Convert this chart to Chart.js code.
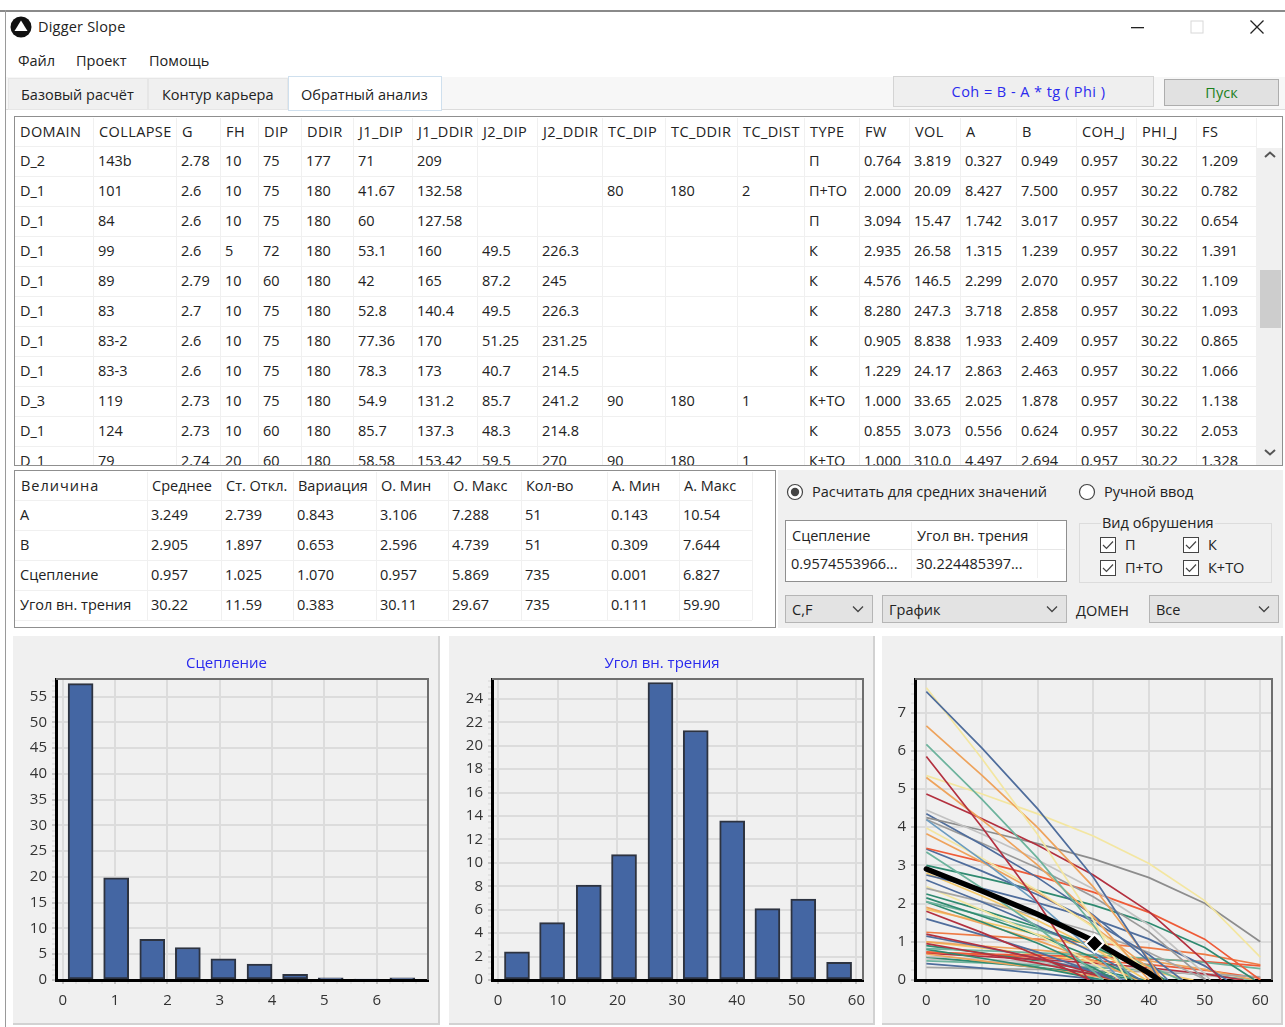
<!DOCTYPE html>
<html lang="ru"><head><meta charset="utf-8"><title>Digger Slope</title>
<script src="https://cdn.jsdelivr.net/npm/chart.js@4"></script>
<style>
html,body{margin:0;padding:0;background:#fff}
#app{position:relative;width:1285px;height:1027px;overflow:hidden;background:#fff;font-family:"Open Sans",sans-serif;font-size:14.5px;color:#222}
.b{position:absolute;box-sizing:border-box}
.b svg{display:block}
.t{position:absolute;white-space:nowrap;line-height:18px;height:18px}
canvas{position:absolute}
</style></head><body><div id="app"></div>
<script>
// ---------- Histogram "Сцепление"
const cohBinCenters=[0.34,1.02,1.71,2.39,3.07,3.76,4.44,5.12,5.80,6.49];
const cohCounts=[57.5,19.8,7.9,6.3,4.1,3.1,1.1,0.4,0.2,0.4];
// ---------- Histogram "Угол вн. трения"
const phiBinCenters=[3.18,9.06,15.2,21.1,27.2,33.1,39.2,45.1,51.1,57.1];
const phiCounts=[2.4,4.9,8.1,10.7,25.4,21.3,13.6,6.1,6.9,1.5];
// ---------- Envelope chart: values at phi = 0,10,...; lineEnds = phi where the line reaches zero
const phiTicks=[0,10,20,30,40,50,60];
const meanLine=[2.905,2.33,1.72,1.03,0.18];
const meanLineEnd=41.8;
const meanPoint=[30.22,0.957];
const lineValues=[
[7.55,6.07,4.48,2.69,0.48],[7.65,5.79,3.81,1.57],[6.65,5.36,3.99,2.44,0.53],[6.17,4.73,3.19,1.44],
[5.85,4.0,2.03],[5.35,4.87,4.35,3.77,3.05,2.08,0.6],[5.3,4.19,3.01,1.66],[4.87,4.22,3.53,2.75,1.79,0.49],
[4.45,3.82,3.14,2.38,1.44,0.17],[4.25,3.92,3.57,3.17,2.68,2.01,1.0],[4.35,3.54,2.68,1.70,0.49],[4.2,3.14,2.02,0.74],
[4.2,3.58,2.93,2.18,1.26,0.03],[3.98,3.19,2.34,1.38,0.2],[3.83,3.09,2.30,1.41,0.31],[3.45,3.10,2.72,2.30,1.77,1.07],
[3.43,2.85,2.23,1.53,0.66],[3.35,2.40,1.38,0.23],[3.0,2.68,2.34,1.96,1.49,0.85],[2.75,2.40,2.02,1.60,1.07,0.37],
[2.62,2.04,1.42,0.72],[2.8,2.20,1.56,0.84],[2.4,2.05,1.67,1.25,0.72,0.02],[2.45,1.83,1.18,0.43],
[2.25,1.83,1.38,0.87,0.24],[2.15,1.67,1.17,0.59],[2.05,1.70,1.32,0.90,0.37],[2.05,1.52,0.96,0.32],
[1.9,1.48,1.03,0.51],[1.85,1.53,1.19,0.81,0.34],[1.8,1.24,0.64],[1.6,1.18,0.73,0.22],
[1.25,1.16,1.07,0.97,0.84,0.67,0.40],[1.2,0.89,0.56,0.19],[1.15,0.87,0.57,0.23],[0.95,0.70,0.44,0.14],
[0.82,0.77,0.71,0.65,0.57,0.46,0.30],[0.8,0.57,0.33,0.05],[0.72,0.68,0.65,0.60,0.55,0.48,0.37],[0.68,0.50,0.32,0.10],
[0.7,0.62,0.54,0.44,0.32,0.16],[0.62,0.55,0.47,0.39,0.28,0.14],[0.6,0.47,0.33,0.17],[0.43,0.31,0.18,0.03],
[0.33,0.30,0.28,0.25,0.21,0.16,0.08],[1.0,0.89,0.78,0.65,0.50,0.28],[1.0,0.84,0.67,0.48,0.24],[0.9,0.71,0.50,0.27],
[0.5,0.45,0.39,0.33,0.25,0.14],[0.55,0.49,0.42,0.35,0.26,0.13],[0.74,0.67,0.59,0.51,0.40,0.26,0.05]];
const lineEnds=[41.8,36,42.3,37,29.1,null,40,53,51,null,43.4,35,50.2,41.5,42.4,60,46,31.8,59,54,38.5,39.5,50,35,43,38.5,45.7,34,38,46,29.4,33.7,null,34.4,35.7,34,null,31.6,null,34,57,57,38.6,31.6,null,59,48,39.3,59,58,null];
const lineColors=['#4f6d9c','#f3e6a1','#eea35c','#6db39d','#b3303f','#f3e6a1','#eea35c','#b3303f','#c2c2c2','#8d8d8d','#4f6d9c','#6b9cc0','#9a9a9a','#f3e6a1','#eea35c','#ee5b38','#4f6d9c','#6db39d','#2f8a70','#4f6d9c','#4f6d9c','#f5c96a','#a5a5a5','#f3e6a1','#2f8a70','#2f8a70','#6db39d','#2f8a70','#eea35c','#f5c96a','#b3303f','#4f6d9c','#ee7a45','#b3303f','#4f6d9c','#b3303f','#6db39d','#2f8a70','#ee5b38','#eea35c','#b3303f','#c2c2c2','#2f8a70','#4f6d9c','#a5a5a5','#eea35c','#f5c96a','#2f8a70','#6db39d','#c2c2c2','#ee5b38'];
// ---------- Tables
const gridHeaders=['DOMAIN','COLLAPSE','G','FH','DIP','DDIR','J1_DIP','J1_DDIR','J2_DIP','J2_DDIR','TC_DIP','TC_DDIR','TC_DIST','TYPE','FW','VOL','A','B','COH_J','PHI_J','FS'];
const gridRows=[
['D_2','143b','2.78','10','75','177','71','209','','','','','','П','0.764','3.819','0.327','0.949','0.957','30.22','1.209'],
['D_1','101','2.6','10','75','180','41.67','132.58','','','80','180','2','П+ТО','2.000','20.09','8.427','7.500','0.957','30.22','0.782'],
['D_1','84','2.6','10','75','180','60','127.58','','','','','','П','3.094','15.47','1.742','3.017','0.957','30.22','0.654'],
['D_1','99','2.6','5','72','180','53.1','160','49.5','226.3','','','','К','2.935','26.58','1.315','1.239','0.957','30.22','1.391'],
['D_1','89','2.79','10','60','180','42','165','87.2','245','','','','К','4.576','146.5','2.299','2.070','0.957','30.22','1.109'],
['D_1','83','2.7','10','75','180','52.8','140.4','49.5','226.3','','','','К','8.280','247.3','3.718','2.858','0.957','30.22','1.093'],
['D_1','83-2','2.6','10','75','180','77.36','170','51.25','231.25','','','','К','0.905','8.838','1.933','2.409','0.957','30.22','0.865'],
['D_1','83-3','2.6','10','75','180','78.3','173','40.7','214.5','','','','К','1.229','24.17','2.863','2.463','0.957','30.22','1.066'],
['D_3','119','2.73','10','75','180','54.9','131.2','85.7','241.2','90','180','1','К+ТО','1.000','33.65','2.025','1.878','0.957','30.22','1.138'],
['D_1','124','2.73','10','60','180','85.7','137.3','48.3','214.8','','','','К','0.855','3.073','0.556','0.624','0.957','30.22','2.053'],
['D_1','79','2.74','20','60','180','58.58','153.42','59.5','270','90','180','1','К+ТО','1.000','310.0','4.497','2.694','0.957','30.22','1.328']];
const statHeaders=['Величина','Среднее','Ст. Откл.','Вариация','О. Мин','О. Макс','Кол-во','А. Мин','А. Макс'];
const statRows=[
['A','3.249','2.739','0.843','3.106','7.288','51','0.143','10.54'],
['B','2.905','1.897','0.653','2.596','4.739','51','0.309','7.644'],
['Сцепление','0.957','1.025','1.070','0.957','5.869','735','0.001','6.827'],
['Угол вн. трения','30.22','11.59','0.383','30.11','29.67','735','0.111','59.90']];

// ---------- Page layout
const app=document.getElementById('app');
function box(x,y,w,h,css,parent){const d=document.createElement('div');d.className='b';d.style.cssText=`left:${x}px;top:${y}px;width:${w}px;height:${h}px;${css||''}`;(parent||app).appendChild(d);return d}
function text(s,x,cy,css,parent){const d=document.createElement('div');d.className='t';d.textContent=s;d.style.cssText=`left:${x}px;top:${cy-9}px;${css||''}`;(parent||app).appendChild(d);return d}
function svg(x,y,w,h,inner){const d=document.createElement('div');d.className='b';d.style.cssText=`left:${x}px;top:${y}px;width:${w}px;height:${h}px`;d.innerHTML=`<svg width="${w}" height="${h}" viewBox="0 0 ${w} ${h}">${inner}</svg>`;app.appendChild(d)}

box(0,10,1285,2,'background:#8a8a8a');box(5,10,1,1017,'background:#9a9a9a');
svg(10,16,22,22,'<circle cx="11" cy="11" r="10.5" fill="#111"/><path d="M11 4.5 L17.5 15 L4.5 15 Z" fill="#fff"/>');
text('Digger Slope',38,27,'letter-spacing:.2px');
svg(1130,20,16,14,'<rect x="1" y="7" width="13" height="1.3" fill="#222"/>');
svg(1190,20,14,14,'<rect x="1" y="1" width="12" height="12" fill="none" stroke="#d8d8d8"/>');
svg(1249,19,16,16,'<path d="M1.5 1.5 L14.5 14.5 M14.5 1.5 L1.5 14.5" stroke="#222" stroke-width="1.3"/>');
text('Файл',18,61);text('Проект',76,61);text('Помощь',149,61);
// tabs and top buttons
box(6,77,1279,33,'background:#f7f7f7;border-bottom:1px solid #dcdcdc');
box(8,78,140,32,'background:#f0f0f0;border:1px solid #e6e6e6');text('Базовый расчёт',21,95);
box(148,78,140,32,'background:#f0f0f0;border:1px solid #e6e6e6');text('Контур карьера',162,95);
box(288,76,154,35,'background:#fff;border:1px solid #cfe0ee');text('Обратный анализ',301,95);
box(893,76,261,31,'background:#efefef;border:1px solid #d4d4d4');
text('Coh = B - A * tg ( Phi )',898,92,'width:261px;text-align:center;color:#2a2aee;letter-spacing:.45px');
box(1164,79,115,27,'background:#e1e1e1;border:1px solid #adadad');
text('Пуск',1164,93,'width:115px;text-align:center;color:#1b801b');
// main grid
const gridCols=[14,93,176,220,258,301,353,412,477,537,602,665,737,804,859,909,960,1016,1076,1136,1196,1256];
const grid=box(14,116,1269,350,'background:#fff;border:1px solid #8f8f8f;overflow:hidden');
gridCols.slice(1).forEach(x=>box(x-15,1,1,348,'background:#f0f0f0',grid));
for(let i=0;i<11;i++)box(0,29+30*i,1242,1,'background:#f0f0f0',grid);
gridHeaders.forEach((h,c)=>text(h,gridCols[c]+6-15,15,'letter-spacing:.4px',grid));
gridRows.forEach((r,i)=>r.forEach((v,c)=>{if(v)text(v,gridCols[c]+5-15+(c==0?1:0),44+30*i,'',grid)}));
box(1242,31,25,318,'background:#f0f0f0',grid);
box(1245,153,21,58,'background:#cdcdcd',grid);
svg(1264,150,12,10,'<path d="M1 7 L6 2.5 L11 7" fill="none" stroke="#555" stroke-width="2"/>');
svg(1264,447,12,10,'<path d="M1 3 L6 7.5 L11 3" fill="none" stroke="#555" stroke-width="2"/>');
// statistics table
const statCols=[14,147,221,293,376,448,521,607,679,752];
const stat=box(14,470,762,158,'background:#fff;border:1px solid #8f8f8f;overflow:hidden');
statCols.slice(1).forEach(x=>box(x-15,1,1,148,'background:#f0f0f0',stat));
for(let i=0;i<5;i++)box(0,29+30*i,737,1,'background:#f0f0f0',stat);
statHeaders.forEach((h,c)=>text(h,statCols[c]+5-15+(c==0?2:0),15,c==0?'letter-spacing:1px':'',stat));
statRows.forEach((r,i)=>r.forEach((v,c)=>text(v,statCols[c]+4-15+(c==0?2:0),44+30*i,'',stat)));
// right control panel
box(778,470,505,158,'background:#f0f0f0');
svg(786,483,18,18,'<circle cx="9" cy="9" r="7.5" fill="#fff" stroke="#444" stroke-width="1.2"/><circle cx="9" cy="9" r="4.2" fill="#444"/>');
text('Расчитать для средних значений',812,492);
svg(1078,483,18,18,'<circle cx="9" cy="9" r="7.5" fill="#fff" stroke="#444" stroke-width="1.2"/>');
text('Ручной ввод',1104,492);
const small=box(785,520,282,62,'background:#fff;border:1px solid #8f8f8f');
box(125,1,1,56,'background:#f0f0f0',small);box(251,1,1,56,'background:#f0f0f0',small);box(1,28,278,1,'background:#e6e6e6',small);
text('Сцепление',6,15,'',small);text('Угол вн. трения',131,15,'',small);
text('0.9574553966...',5,43,'',small);text('30.224485397...',130,43,'',small);
box(1079,523,193,60,'border:1px solid #dcdcdc');
text('Вид обрушения',1101,523,'background:#f0f0f0;padding:0 1px');
[[1100,537,'П'],[1183,537,'К'],[1100,560,'П+ТО'],[1183,560,'К+ТО']].forEach(([x,y,l])=>{
  svg(x,y,16,16,'<rect x=".5" y=".5" width="15" height="15" fill="#fff" stroke="#444"/><path d="M3 8 L6.5 11.5 L13 4.5" fill="none" stroke="#444" stroke-width="1.2"/>');
  text(l,x+25,y+8);
});
[[785,88,'C,F'],[882,185,'График'],[1149,130,'Все']].forEach(([x,w,l])=>{
  box(x,595,w,28,'background:#e3e3e3;border:1px solid #b5b5b5');
  text(l,x+7,610);
  svg(x+w-22,604,14,10,'<path d="M2 2.5 L7 7.5 L12 2.5" fill="none" stroke="#444" stroke-width="1.3"/>');
});
text('ДОМЕН',1076,611);

// ---------- Charts
function panel(x,w){box(x,636,w,389,'background:#f0f0f0;border-right:2px solid #d2d2d2;border-bottom:2px solid #d2d2d2');
  const c=document.createElement('canvas');c.width=w;c.height=389;c.style.left=x+'px';c.style.top='636px';app.appendChild(c);return c}
const frame={id:'frame',afterDatasetsDraw(ch){const a=ch.chartArea,g=ch.ctx;g.save();g.strokeStyle='#6e6e6e';g.lineWidth=2;g.beginPath();g.moveTo(a.left,a.top);g.lineTo(a.right,a.top);g.lineTo(a.right,a.bottom);g.stroke();g.restore()}};
const near=(v,m)=>Math.abs(v/m-Math.round(v/m))<1e-6;
const isMajor=(c,m)=>!!c.tick&&near(c.tick.value,m);
function axis(min,max,minor,major,size,isX){return {type:'linear',min,max,offset:false,
  afterFit(s){if(isX)s.height=size;else s.width=size},
  border:{display:true,color:'#000',width:3},
  grid:{offset:false,lineWidth:2,tickLength:4,tickWidth:1,
    color:c=>isMajor(c,major)?'#dcdcdc':'rgba(0,0,0,0)',
    tickColor:c=>isMajor(c,major)?'#9a9a9a':'#d4d4d4'},
  ticks:{stepSize:minor,includeBounds:false,autoSkip:false,maxRotation:0,padding:isX?8:5,color:'#333',
    font:{family:'"Open Sans",sans-serif',size:15},
    callback:v=>near(v,major)?String(Math.round(v)):''}}}
function histogram(cv,title,xs,ys,xa,ya){const points=xs.map((x,i)=>({x,y:ys[i]}));
  new Chart(cv,{type:'bar',plugins:[frame],data:{datasets:[{data:points,backgroundColor:'#4466a3',borderColor:'#2d3340',borderWidth:2,borderSkipped:false,barThickness:25}]},
    options:{responsive:false,animation:false,layout:{padding:{left:12,right:12,top:0,bottom:0}},
      plugins:{legend:{display:false},tooltip:{enabled:false},
        title:{display:true,text:title,color:'#2a2aee',font:{family:'"Open Sans",sans-serif',size:15,weight:'normal'},padding:{top:19,bottom:6}}},
      scales:{x:xa,y:ya}}})}
histogram(panel(13,427),'Сцепление',cohBinCenters,cohCounts,axis(-0.13,6.98,0.25,1,45,true),axis(0,58.4,1,5,31,false));
histogram(panel(449,426),'Угол вн. трения',phiBinCenters,phiCounts,axis(-1,61.1,2.5,10,45,true),axis(0,25.7,0.5,2,31,false));

const toPts=(vals,end)=>{const p=vals.map((y,i)=>({x:phiTicks[i],y}));if(end!==null)p.push({x:end,y:0});return p};
const lineSets=lineValues.map((v,i)=>({data:toPts(v,lineEnds[i]),borderColor:lineColors[i],borderWidth:1.7,pointRadius:0,showLine:true,tension:0}));
new Chart(panel(882,401),{type:'scatter',plugins:[frame],data:{datasets:[
  {data:[{x:meanPoint[0],y:meanPoint[1]}],pointStyle:'rectRot',pointRadius:9,pointBackgroundColor:'#000',pointBorderColor:'#fff',pointBorderWidth:2,showLine:false},
  {data:toPts(meanLine,meanLineEnd),borderColor:'#000',borderWidth:5.5,pointRadius:0,showLine:true,tension:0,borderCapStyle:'round'},
  ...lineSets]},
  options:{responsive:false,animation:false,layout:{padding:{left:0,right:11,top:43,bottom:0}},
    plugins:{legend:{display:false},tooltip:{enabled:false}},
    scales:{x:axis(-2.04,62.1,2.5,10,45,true),y:axis(0,7.88,0.25,1,33,false)}}});
</script></body></html>
